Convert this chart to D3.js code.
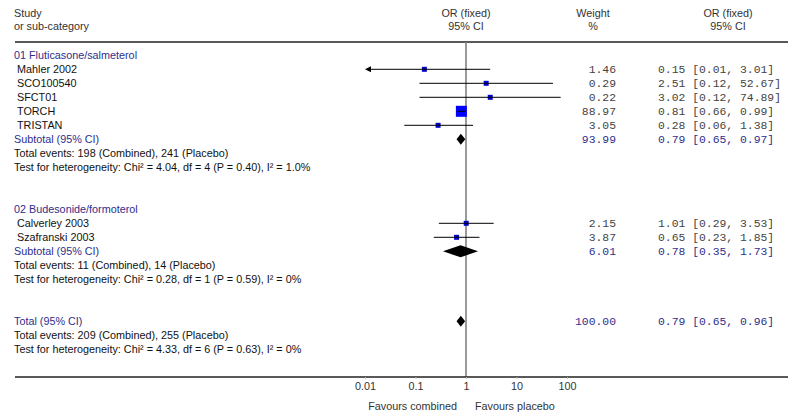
<!DOCTYPE html>
<html><head><meta charset="utf-8">
<script src="https://cdn.jsdelivr.net/npm/d3@7"></script>
<style>
body{margin:0;background:#fff;}
text{font-family:"Liberation Sans",Arial,sans-serif;}
.mono{font-family:"Liberation Mono","Courier New",monospace;}
</style></head>
<body>
<svg id="c" width="800" height="418"></svg>
<script>
// ---- data ----
const groupNames = ["01 Fluticasone/salmeterol", "02 Budesonide/formoterol"];
const studyNames = ["Mahler 2002","SCO100540","SFCT01","TORCH","TRISTAN","Calverley 2003","Szafranski 2003"];
const studyGroup = [0,0,0,0,0,1,1];
const studyOR    = [0.15, 2.51, 3.02, 0.81, 0.28, 1.01, 0.65];
const studyLo    = [0.01, 0.12, 0.12, 0.66, 0.06, 0.29, 0.23];
const studyHi    = [3.01, 52.67, 74.89, 0.99, 1.38, 3.53, 1.85];
const studyWeight= [1.46, 0.29, 0.22, 88.97, 3.05, 2.15, 3.87];
const studyLoText= ["0.01","0.12","0.12","0.66","0.06","0.29","0.23"];
const subtotalOR = [0.79, 0.78];
const subtotalLo = [0.65, 0.35];
const subtotalHi = [0.97, 1.73];
const subtotalWeight = ["93.99","6.01"];
const subtotalEvents = ["Total events: 198 (Combined), 241 (Placebo)","Total events: 11 (Combined), 14 (Placebo)"];
const subtotalHet = ["Test for heterogeneity: Chi\u00B2 = 4.04, df = 4 (P = 0.40), I\u00B2 = 1.0%","Test for heterogeneity: Chi\u00B2 = 0.28, df = 1 (P = 0.59), I\u00B2 = 0%"];
const totalOR = 0.79, totalLo = 0.65, totalHi = 0.96, totalWeight = "100.00";
const totalEvents = "Total events: 209 (Combined), 255 (Placebo)";
const totalHet = "Test for heterogeneity: Chi\u00B2 = 4.33, df = 6 (P = 0.63), I\u00B2 = 0%";
const tickValues = [0.01, 0.1, 1, 10, 100];
const tickLabels = ["0.01","0.1","1","10","100"];

const svg = d3.select("#c");
const navy = "#2e2e8c", ink = "#111", grey = "#333";
const fmt = d3.format(".2f");
const fs = 10.8, ms = 11.4;

// layout rows
const rows = [];
let r = 0;
groupNames.forEach((g, gi) => {
  rows.push({type:"group", label:g, row:r++});
  studyNames.forEach((s, i) => { if (studyGroup[i] === gi) rows.push({type:"study", i, row:r++}); });
  rows.push({type:"sub", gi, row:r++});
  rows.push({type:"text", label:subtotalEvents[gi], row:r++});
  rows.push({type:"text", label:subtotalHet[gi], row:r++});
  r += 2;
});
rows.push({type:"total", row:r++});
rows.push({type:"text", label:totalEvents, row:r++});
rows.push({type:"text", label:totalHet, row:r++});

const y = d3.scaleLinear().domain([0, 1]).range([55.3, 69.3]);
const x = d3.scaleLog().domain([0.01, 100]).range([365, 567]);
const sz = d3.scaleSqrt().domain([0, 88.97]).range([0, 11]);

// header
const hdr = svg.append("g").attr("font-size", fs).attr("fill", grey);
hdr.append("text").attr("x", 14).attr("y", 17).text("Study");
hdr.append("text").attr("x", 14).attr("y", 30).text("or sub-category");
[[466,"OR (fixed)","95% CI"],[593,"Weight","%"],[728,"OR (fixed)","95% CI"]].forEach(h => {
  hdr.append("text").attr("x", h[0]).attr("y", 17).attr("text-anchor","middle").text(h[1]);
  hdr.append("text").attr("x", h[0]).attr("y", 30).attr("text-anchor","middle").text(h[2]);
});
svg.append("line").attr("x1", 15).attr("x2", 788).attr("y1", 42).attr("y2", 42).attr("stroke", "#222").attr("stroke-width", 1.3);

// vertical line at OR = 1
svg.append("line").attr("x1", x(1)).attr("x2", x(1)).attr("y1", 42).attr("y2", 377)
  .attr("stroke", "#808080").attr("stroke-width", 1.6);

const body = svg.append("g");
const base = 3.7;
function diamond(cy, or, lo, hi, h) {
  const p = [[x(lo), cy], [x(or), cy - h/2], [x(hi), cy], [x(or), cy + h/2]];
  body.append("path").attr("d", "M" + p.join("L") + "Z").attr("fill", "#000");
}
rows.forEach(d => {
  const cy = y(d.row);
  if (d.type === "group") {
    body.append("text").attr("x", 14).attr("y", cy + base).attr("font-size", fs).attr("fill", navy).text(d.label);
  } else if (d.type === "study") {
    const i = d.i;
    body.append("text").attr("x", 17).attr("y", cy + base).attr("font-size", fs).attr("fill", ink).text(studyNames[i]);
    const xl = Math.max(x(studyLo[i]), x.range()[0]);
    const arrow = studyLo[i] <= x.domain()[0];
    const s = Math.max(5, sz(studyWeight[i]));
    body.append("rect").attr("x", x(studyOR[i]) - s/2).attr("y", cy - s/2).attr("width", s).attr("height", s)
      .attr("fill", studyWeight[i] > 50 ? "#0000ff" : "#0000cc");
    body.append("line").attr("x1", arrow ? xl + 5 : xl).attr("x2", x(studyHi[i])).attr("y1", cy).attr("y2", cy)
      .attr("stroke", "#000").attr("stroke-width", 1);
    if (arrow) {
      body.append("path").attr("d", `M${xl},${cy}L${xl+6},${cy-3}L${xl+6},${cy+3}Z`).attr("fill", "#000");
    }
    body.append("text").attr("class","mono").attr("x", 616).attr("y", cy + base).attr("text-anchor","end")
      .attr("font-size", ms).attr("fill", "#444").text(fmt(studyWeight[i]));
    body.append("text").attr("class","mono").attr("x", 658).attr("y", cy + base)
      .attr("font-size", ms).attr("fill", "#444")
      .text(`${fmt(studyOR[i])} [${studyLoText[i]}, ${fmt(studyHi[i])}]`);
  } else if (d.type === "sub" || d.type === "total") {
    const isSub = d.type === "sub";
    const or = isSub ? subtotalOR[d.gi] : totalOR, lo = isSub ? subtotalLo[d.gi] : totalLo, hi = isSub ? subtotalHi[d.gi] : totalHi;
    const w = isSub ? subtotalWeight[d.gi] : totalWeight;
    body.append("text").attr("x", 14).attr("y", cy + base).attr("font-size", fs).attr("fill", navy)
      .text(isSub ? "Subtotal (95% CI)" : "Total (95% CI)");
    diamond(cy, or, lo, hi, isSub && d.gi === 1 ? 12 : 11);
    body.append("text").attr("class","mono").attr("x", 616).attr("y", cy + base).attr("text-anchor","end")
      .attr("font-size", ms).attr("fill", navy).text(w);
    body.append("text").attr("class","mono").attr("x", 658).attr("y", cy + base)
      .attr("font-size", ms).attr("fill", navy).text(`${fmt(or)} [${fmt(lo)}, ${fmt(hi)}]`);
  } else {
    body.append("text").attr("x", 14).attr("y", cy + base).attr("font-size", fs).attr("fill", ink).text(d.label);
  }
});

// bottom axis
svg.append("line").attr("x1", 15).attr("x2", 788).attr("y1", 377).attr("y2", 377).attr("stroke", "#222").attr("stroke-width", 1.3);
const ax = svg.append("g").attr("transform", "translate(0,377)")
  .call(d3.axisBottom(x).tickValues(tickValues).tickFormat((d, i) => tickLabels[i]).tickSize(2).tickPadding(3));
ax.select(".domain").remove();
ax.selectAll("line").attr("stroke", "#bbb");
ax.selectAll("text").attr("font-size", fs).attr("fill", grey).attr("font-family", "Liberation Sans, Arial, sans-serif");
svg.append("text").attr("x", 457).attr("y", 409.5).attr("text-anchor", "end").attr("font-size", fs).attr("fill", grey).text("Favours combined");
svg.append("text").attr("x", 475).attr("y", 409.5).attr("font-size", fs).attr("fill", grey).text("Favours placebo");
</script>
</body></html>
